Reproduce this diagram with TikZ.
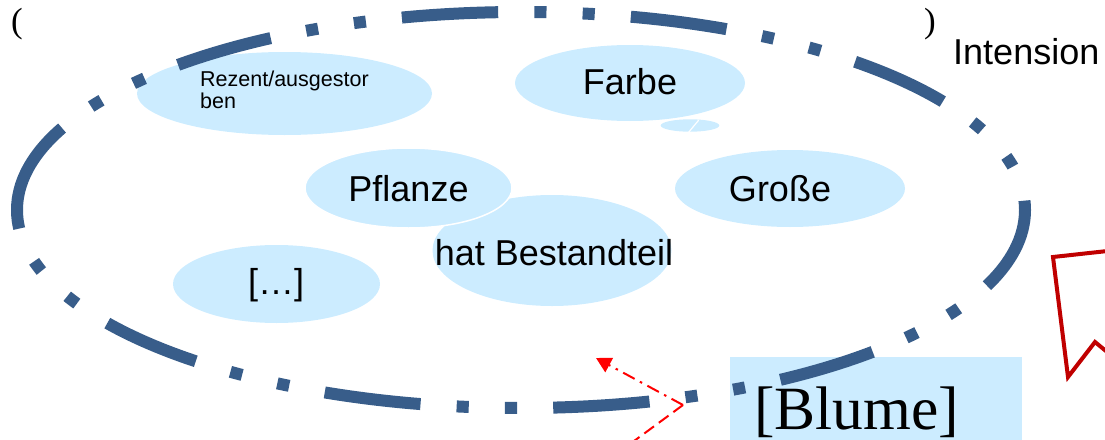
\documentclass[tikz,border=0pt]{standalone}
\usepackage{fontspec}
\setmainfont{Liberation Sans}
\newfontfamily\serifb{Liberation Serif}
\usetikzlibrary{arrows.meta,shapes.geometric}
\definecolor{ringblue}{RGB}{56,93,138}
\definecolor{bubblefill}{RGB}{204,236,255}
\definecolor{darkred}{RGB}{192,0,0}
\begin{document}
\begin{tikzpicture}[x=1pt,y=-1pt,
  bub/.style={ellipse, fill=bubblefill, inner sep=0pt, outer sep=0pt},
  lbl/.style={inner sep=0pt, font=\fontsize{36}{43}\selectfont},
  ring/.style={draw=ringblue, line width=12pt,
    dash pattern=on 96.5pt off 36.2pt on 12.1pt off 36.2pt on 12.1pt off 36.2pt},
  redline/.style={draw=red, line width=2pt}]
\path[use as bounding box] (0,0) rectangle (1105,439);
\clip (0,0) rectangle (1105,439);

% bubbles
\node[bub, minimum width=295pt, minimum height=83pt] (rez) at (284.5,93.5) {};
\node[bub, minimum width=230pt, minimum height=76pt] (farbe) at (630,83) {};
\node[bub, minimum width=58.6pt, minimum height=12.4pt] (tiny) at (690,125.5) {};
\draw[white, line width=1.2pt] (tiny.north east) ++(-12,-1) coordinate (tw1) -- ++(-10,12) coordinate (tw2);
\node[bub, minimum width=239pt, minimum height=111pt] (hat) at (552,250.5) {};
\node[bub, draw=white, line width=1.5pt, minimum width=207pt, minimum height=80pt] (pfl) at (408.5,188) {};
\node[bub, minimum width=230pt, minimum height=77pt] (gro) at (790,188.5) {};
\node[bub, minimum width=207pt, minimum height=78pt] (etc) at (276.5,284) {};

% texts
\node[anchor=base west, inner sep=0pt, align=left, font=\fontsize{21.5}{19}\selectfont] (t-rez) at (200,108) {Rezent/ausgestor\\ben};
\node[lbl, anchor=base] (t-farbe) at (630,94) {Farbe};
\node[lbl, anchor=base] (t-pfl) at (408.5,201) {Pflanze};
\node[lbl, anchor=base] (t-gro) at (780,201) {Große};
\node[lbl, anchor=base] (t-hat) at (554,265) {hat Bestandteil};
\node[lbl, anchor=base] (t-etc) at (276,294) {[…]};
\node[lbl, anchor=base west] (t-int) at (953,64) {Intension};
\node[inner sep=0pt, anchor=base, font=\serifb\fontsize{35}{40}\selectfont] (lpar) at (17,32) {(};
\node[inner sep=0pt, anchor=base, font=\serifb\fontsize{35}{40}\selectfont] (rpar) at (930,32) {)};

% Blume box
\node[fill=bubblefill, inner sep=0pt, anchor=north west, minimum width=292pt, minimum height=90pt] (blumebox) at (730,357) {};
\node[inner sep=0pt, anchor=base, font=\serifb\fontsize{61.5}{70}\selectfont] (t-blume) at (856.5,429) {[Blume]};

% big dashed ring
\coordinate (ringstart) at (17,210);
\draw[ring] (ringstart) arc[start angle=180, end angle=-180, x radius=504pt, y radius=198pt];

% red callout outline
\coordinate (c1) at (1112,250.5);
\coordinate (c2) at (1053,257);
\coordinate (c3) at (1068,377);
\coordinate (c4) at (1095,342);
\coordinate (c5) at (1112,356);
\draw[darkred, line width=4pt, line join=miter] (c1) -- (c2) -- (c3) -- (c4) -- (c5);

% red arrows
\coordinate (src) at (683,405);
\coordinate (tip) at (596,358);
\coordinate (down) at (615,455);
\draw[redline, dash pattern=on 13pt off 6pt on 2.5pt off 6pt, -{Triangle[length=15pt,width=16pt]}] (src) -- (tip);
\draw[redline, dash pattern=on 12pt off 6pt] (src) -- (down);
\end{tikzpicture}
\end{document}
